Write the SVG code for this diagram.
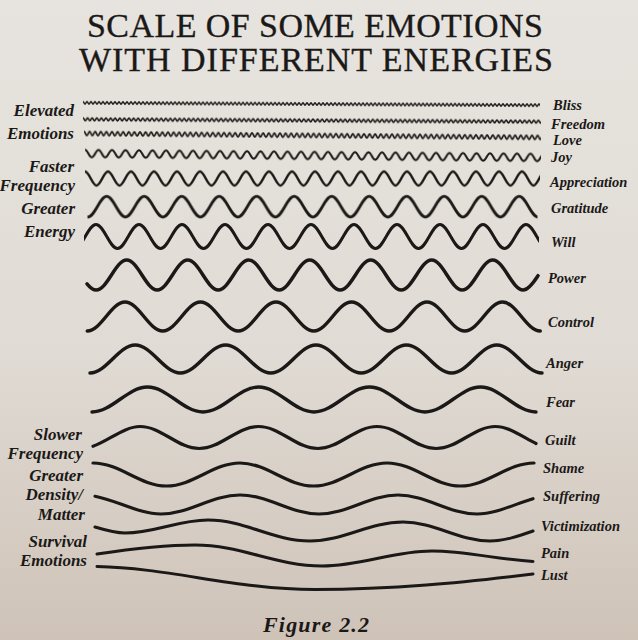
<svg xmlns="http://www.w3.org/2000/svg" width="638" height="640" viewBox="0 0 638 640">
<style>
.wv{fill:none;stroke:#1b1917;stroke-linecap:round;stroke-linejoin:round}
.lb{font-family:"Liberation Serif","DejaVu Serif",serif;font-style:italic;font-weight:bold;fill:#1b1917}
.ll{font-size:17px;text-anchor:end}
.lr{font-size:14.5px}
.ttl{font-family:"Liberation Serif","DejaVu Serif",serif;font-size:34px;fill:#1b1917;stroke:#1b1917;stroke-width:0.35;text-anchor:middle}
</style>
<defs>
<linearGradient id="bg" x1="0" y1="0" x2="0" y2="1">
<stop offset="0" stop-color="#e7e4df"/>
<stop offset="0.55" stop-color="#e0dbd4"/>
<stop offset="1" stop-color="#cfc3b8"/>
</linearGradient>
<pattern id="p1" patternUnits="userSpaceOnUse" x="83" y="101" width="4" height="6"><path class="wv" stroke-width="1.6" d="M-4,1.8 c.727,0 1.273,2.4 2,2.4 s1.273,-2.4 2,-2.4 s1.273,2.4 2,2.4 s1.273,-2.4 2,-2.4 s1.273,2.4 2,2.4 s1.273,-2.4 2,-2.4"/></pattern>
<pattern id="p2" patternUnits="userSpaceOnUse" x="83" y="117" width="4.6" height="7"><path class="wv" stroke-width="1.7" d="M-4.6,2 c.836,0 1.464,3 2.3,3 s1.464,-3 2.3,-3 s1.464,3 2.3,3 s1.464,-3 2.3,-3 s1.464,3 2.3,3 s1.464,-3 2.3,-3"/></pattern>
<pattern id="p3" patternUnits="userSpaceOnUse" x="84" y="131.5" width="5.6" height="8"><path class="wv" stroke-width="1.8" d="M-5.6,1.8 c1.018,0 1.782,4.4 2.8,4.4 s1.782,-4.4 2.8,-4.4 s1.782,4.4 2.8,4.4 s1.782,-4.4 2.8,-4.4 s1.782,4.4 2.8,4.4 s1.782,-4.4 2.8,-4.4"/></pattern>
<pattern id="p4" patternUnits="userSpaceOnUse" x="85" y="149.5" width="13.5" height="12"><path class="wv" stroke-width="2.1" d="M-13.5,2.2 c2.453,0 4.297,7.6 6.75,7.6 s4.297,-7.6 6.75,-7.6 s4.297,7.6 6.75,7.6 s4.297,-7.6 6.75,-7.6 s4.297,7.6 6.75,7.6 s4.297,-7.6 6.75,-7.6"/></pattern>
<pattern id="p5" patternUnits="userSpaceOnUse" x="85" y="168.5" width="23" height="20"><path class="wv" stroke-width="2.5" d="M-23,3 c4.179,0 7.321,14 11.5,14 s7.321,-14 11.5,-14 s7.321,14 11.5,14 s7.321,-14 11.5,-14 s7.321,14 11.5,14 s7.321,-14 11.5,-14"/></pattern>
<pattern id="p6" patternUnits="userSpaceOnUse" x="106.7" y="193.2" width="37.5" height="27"><path class="wv" stroke-width="2.8" d="M-37.5,3.2 c6.814,0 11.936,20.6 18.75,20.6 s11.936,-20.6 18.75,-20.6 s11.936,20.6 18.75,20.6 s11.936,-20.6 18.75,-20.6 s11.936,20.6 18.75,20.6 s11.936,-20.6 18.75,-20.6"/></pattern>
<pattern id="p7" patternUnits="userSpaceOnUse" x="96" y="221" width="43" height="31"><path class="wv" stroke-width="3" d="M-43,3.5 c7.813,0 13.687,24 21.5,24 s13.687,-24 21.5,-24 s13.687,24 21.5,24 s13.687,-24 21.5,-24 s13.687,24 21.5,24 s13.687,-24 21.5,-24"/></pattern>
</defs>
<rect x="0" y="0" width="638" height="640" fill="url(#bg)"/>

<g id="title">
<text class="ttl" x="315" y="37" textLength="456" lengthAdjust="spacing">SCALE OF SOME EMOTIONS</text>
<text class="ttl" x="316" y="71" textLength="474" lengthAdjust="spacing">WITH DIFFERENT ENERGIES</text>
</g>

<g id="left-labels" class="lb">
<text class="ll" x="74" y="116" font-size="19.5">Elevated</text>
<text class="ll" x="74" y="139" font-size="19.5">Emotions</text>
<text class="ll" x="74" y="172">Faster</text>
<text class="ll" x="75" y="191">Frequency</text>
<text class="ll" x="75" y="214">Greater</text>
<text class="ll" x="75" y="237">Energy</text>
<text class="ll" x="82" y="440">Slower</text>
<text class="ll" x="83" y="459">Frequency</text>
<text class="ll" x="83" y="481">Greater</text>
<text class="ll" x="83" y="500">Density/</text>
<text class="ll" x="85" y="520">Matter</text>
<text class="ll" x="87" y="547">Survival</text>
<text class="ll" x="87" y="566">Emotions</text>
</g>

<g id="waves">
<g id="bliss"><rect x="83" y="101" width="457" height="6" fill="url(#p1)" transform="rotate(0.3 312 104)"/><text class="lb lr" x="553" y="110">Bliss</text></g>
<g id="freedom"><rect x="83" y="117" width="458" height="7" fill="url(#p2)" transform="rotate(0.3 312 120.5)"/><text class="lb lr" x="551" y="129">Freedom</text></g>
<g id="love"><rect x="84" y="131.5" width="457" height="8" fill="url(#p3)" transform="rotate(0.5 312 135.5)"/><text class="lb lr" x="553" y="145">Love</text></g>
<g id="joy"><rect x="85" y="149.5" width="456" height="12" fill="url(#p4)" transform="rotate(0.5 312 155.5)"/><text class="lb lr" x="551" y="162">Joy</text></g>
<g id="appreciation"><rect x="85" y="168.5" width="455" height="20" fill="url(#p5)"/><text class="lb lr" x="550" y="187">Appreciation</text></g>
<g id="gratitude"><rect x="87.5" y="193.2" width="450" height="27" fill="url(#p6)"/><text class="lb lr" x="551" y="213">Gratitude</text></g>
<g id="will"><rect x="84" y="221" width="455" height="31" fill="url(#p7)"/><text class="lb lr" x="551" y="247">Will</text></g>
<g id="power"><path class="wv" stroke-width="3.5" d="M87,283.8 Q92,290 96.2,290 c11.08,0 19.42,-30 30.5,-30 s19.42,30 30.5,30 s19.42,-30 30.5,-30 s19.42,30 30.5,30 s19.42,-30 30.5,-30 s19.42,30 30.5,30 s19.42,-30 30.5,-30 s19.42,30 30.5,30 s19.42,-30 30.5,-30 s19.42,30 30.5,30 s19.42,-30 30.5,-30 s19.42,30 30.5,30 s19.42,-30 30.5,-30 s19.42,30 30.5,30 Q528.7,290 538,275.7"/><text class="lb lr" x="548" y="283">Power</text></g>
<g id="control"><path class="wv" stroke-width="3.5" d="M87.25,331 c13.72,0 24.03,-29 37.75,-29 s24.03,29 37.75,29 s24.03,-29 37.75,-29 s24.03,29 37.75,29 s24.03,-29 37.75,-29 s24.03,29 37.75,29 s24.03,-29 37.75,-29 s24.03,29 37.75,29 s24.03,-29 37.75,-29 s24.03,29 37.75,29 s24.03,-29 37.75,-29 s24.03,29 37.75,29"/><text class="lb lr" x="548" y="327">Control</text></g>
<g id="anger"><path class="wv" stroke-width="3.5" d="M90,373 c16.43,0 28.77,-28 45.2,-28 s28.77,28 45.2,28 s28.77,-28 45.2,-28 s28.77,28 45.2,28 s28.77,-28 45.2,-28 s28.77,28 45.2,28 s28.77,-28 45.2,-28 s28.77,28 45.2,28 s28.77,-28 45.2,-28 s28.77,28 45.2,28"/><text class="lb lr" x="546" y="368">Anger</text></g>
<g id="fear"><path class="wv" stroke-width="3.4" d="M92,412 c20.17,0 35.33,-25 55.5,-25 s35.33,25 55.5,25 s35.33,-25 55.5,-25 s35.33,25 55.5,25 s35.33,-25 55.5,-25 s35.33,25 55.5,25 s35.33,-25 55.5,-25 s35.33,25 55.5,25"/><text class="lb lr" x="546" y="407">Fear</text></g>
<g id="guilt"><path class="wv" stroke-width="3.2" d="M93,446.3 C108.7,440.8 124.3,426.5 140,426.5 c21.53,0 37.72,22 59.25,22 s37.72,-22 59.25,-22 s37.72,22 59.25,22 s37.72,-22 59.25,-22 s37.72,22 59.25,22 s37.72,-22 59.25,-22 C509,426.5 522.5,436.9 536,443.5"/><text class="lb lr" x="545" y="445">Guilt</text></g>
<g id="shame"><path class="wv" stroke-width="3.2" d="M93,463 c26.71,0 46.79,23 73.5,23 s46.79,-23 73.5,-23 s46.79,23 73.5,23 s46.79,-23 73.5,-23 s46.79,23 73.5,23 s46.79,-23 73.5,-23"/><text class="lb lr" x="543" y="473">Shame</text></g>
<g id="suffering"><path class="wv" stroke-width="3.1" d="M95,496.2 C117,500.3 139,514 161,514 c28.71,0 50.29,-19 79,-19 s50.29,19 79,19 s50.29,-19 79,-19 s50.29,19 79,19 C495.67,514 514.33,504.3 533,498.7"/><text class="lb lr" x="543" y="501">Suffering</text></g>
<g id="victimization"><path class="wv" stroke-width="3.1" d="M95,527 C105,530 115,533 125,533 C155.2,533 177.8,520 208,520 C245.1,520 272.9,541 310,541 C343.8,541 369.2,522 403,522 C434.6,522 458.4,541 490,541 C504.3,541 518.7,536 533,531"/><text class="lb lr" x="541" y="531" font-size="14">Victimization</text></g>
<g id="pain"><path class="wv" stroke-width="3" d="M97,554 C129.7,549.1 162.3,545 195,545 C241.2,545 275.8,566 322,566 C362,566 392,551 432,551 C465.7,551 499.3,559.8 533,561.5"/><text class="lb lr" x="541" y="558">Pain</text></g>
<g id="lust"><path class="wv" stroke-width="3" d="M97,566.5 C170,568 236,589.5 315,589.5 C394,589.5 460,582.7 533,574"/><text class="lb lr" x="541" y="580">Lust</text></g>
</g>

<g id="caption">
<text class="lb" x="263" y="632" font-size="22" textLength="106" lengthAdjust="spacing">Figure 2.2</text>
</g>
</svg>
